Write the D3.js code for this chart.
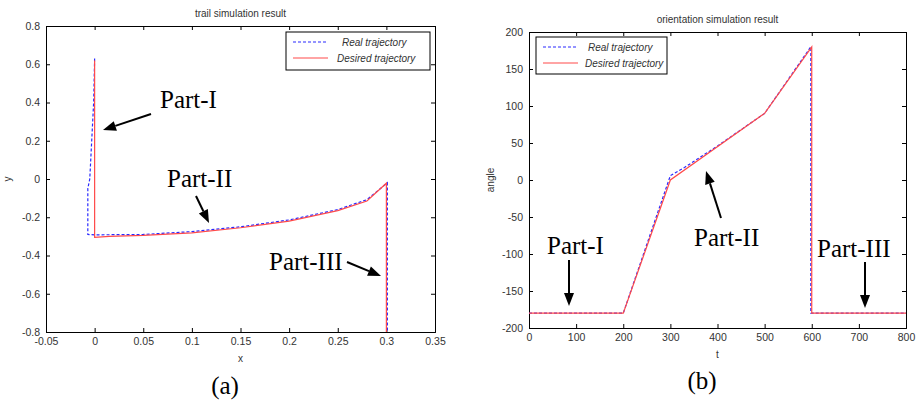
<!DOCTYPE html>
<html>
<head>
<meta charset="utf-8">
<script src="https://cdn.jsdelivr.net/npm/d3@7"></script>
<style>
  body { margin: 0; background: #fff; }
  svg { display: block; }
  .tick text { font-family: "Liberation Sans", Arial, sans-serif; font-size: 10.5px; fill: #333; }
  .small { font-family: "Liberation Sans", Arial, sans-serif; font-size: 10px; fill: #333; }
  .part { font-family: "Liberation Serif", "Times New Roman", serif; font-size: 25px; fill: #000; }
</style>
</head>
<body>
<svg id="chart" width="918" height="400"></svg>
<script>
// ---- panel (a): trail simulation result (x, y) ----
var trailDesiredX = [0, 0, 0.015, 0.05, 0.1, 0.15, 0.2, 0.25, 0.28, 0.3, 0.3];
var trailDesiredY = [0.62, -0.305, -0.3, -0.295, -0.282, -0.255, -0.22, -0.165, -0.115, -0.022, -0.8];
var trailRealX = [0, -0.001, -0.003, -0.005, -0.007, -0.007, 0, 0.05, 0.1, 0.15, 0.2, 0.25, 0.28, 0.301, 0.301];
var trailRealY = [0.63, 0.4, 0.2, 0.0, -0.05, -0.29, -0.292, -0.29, -0.275, -0.25, -0.214, -0.16, -0.108, -0.02, -0.8];
var trailXTicks = [-0.05, 0, 0.05, 0.1, 0.15, 0.2, 0.25, 0.3, 0.35];
var trailYTicks = [-0.8, -0.6, -0.4, -0.2, 0, 0.2, 0.4, 0.6, 0.8];

// ---- panel (b): orientation simulation result (t, angle) ----
var orientDesiredT = [0, 200, 300, 500, 600, 600, 800];
var orientDesiredA = [-180, -180, 0, 90, 180, -180, -180];
var orientRealT = [0, 200, 300, 330, 400, 450, 500, 598, 598, 800];
var orientRealA = [-180, -180, 6, 17, 46, 68, 90, 180, -180, -180];
var orientXTicks = [0, 100, 200, 300, 400, 500, 600, 700, 800];
var orientYTicks = [-200, -150, -100, -50, 0, 50, 100, 150, 200];

var legendLabels = ["Real trajectory", "Desired trajectory"];
var realColor = "#2a2aff";
var desiredColor = "#ff4a4a";

var svg = d3.select("#chart");

// matlab style labels use a plain hyphen for negatives
var tickFmt = function(d) { return String(d); };

function zip(xs, ys) {
  return xs.map(function(x, i) { return [x, ys[i]]; });
}

function drawPanel(cfg) {
  var g = svg.append("g");
  var x = d3.scaleLinear().domain(cfg.xDomain).range([cfg.left, cfg.right]);
  var y = d3.scaleLinear().domain(cfg.yDomain).range([cfg.bottom, cfg.top]);

  // axes with inward ticks on all four sides
  g.append("g").attr("transform", "translate(0," + cfg.bottom + ")")
    .call(d3.axisBottom(x).tickValues(cfg.xTicks).tickSize(-4).tickPadding(6).tickFormat(tickFmt));
  g.append("g").attr("transform", "translate(" + cfg.left + ",0)")
    .call(d3.axisLeft(y).tickValues(cfg.yTicks).tickSize(-4).tickPadding(6).tickFormat(tickFmt));
  g.append("g").attr("transform", "translate(0," + cfg.top + ")")
    .call(d3.axisTop(x).tickValues(cfg.xTicks).tickSize(-4).tickFormat(""));
  g.append("g").attr("transform", "translate(" + cfg.right + ",0)")
    .call(d3.axisRight(y).tickValues(cfg.yTicks).tickSize(-4).tickFormat(""));
  g.selectAll(".domain").attr("stroke", "#000");
  g.selectAll(".tick line").attr("stroke", "#000");

  var line = d3.line().x(function(d) { return x(d[0]); }).y(function(d) { return y(d[1]); });

  g.append("path").datum(zip(cfg.realX, cfg.realY))
    .attr("d", line).attr("fill", "none").attr("stroke", realColor)
    .attr("stroke-width", 1.2).attr("stroke-dasharray", "3,2");
  g.append("path").datum(zip(cfg.desX, cfg.desY))
    .attr("d", line).attr("fill", "none").attr("stroke", desiredColor)
    .attr("stroke-width", 1.2);

  // title and axis labels
  var cx = (cfg.left + cfg.right) / 2;
  g.append("text").attr("class", "small").attr("x", cx).attr("y", cfg.top - 9)
    .attr("text-anchor", "middle").text(cfg.title);
  g.append("text").attr("class", "small").attr("x", cx).attr("y", cfg.bottom + 30)
    .attr("text-anchor", "middle").text(cfg.xLabel);
  g.append("text").attr("class", "small")
    .attr("transform", "translate(" + cfg.yLabelX + "," + ((cfg.top + cfg.bottom) / 2) + ") rotate(-90)")
    .attr("text-anchor", "middle").text(cfg.yLabel);
  g.append("text").attr("class", "part").attr("x", cfg.capX).attr("y", cfg.capY)
    .attr("text-anchor", "middle").text(cfg.caption);

  // legend
  var lg = cfg.legend;
  g.append("rect").attr("x", lg.x).attr("y", lg.y).attr("width", lg.w).attr("height", lg.h)
    .attr("fill", "#fff").attr("stroke", "#000").attr("stroke-width", 1);
  [realColor, desiredColor].forEach(function(c, i) {
    var ly = lg.y + 10 + i * 16;
    g.append("line").attr("x1", lg.x + 7).attr("x2", lg.x + 42).attr("y1", ly).attr("y2", ly)
      .attr("stroke", c).attr("stroke-width", 1.2)
      .attr("stroke-dasharray", i === 0 ? "3,2" : null);
    g.append("text").attr("class", "small").attr("x", lg.x + lg.textX[i]).attr("y", ly + 3.5)
      .attr("font-style", "italic").attr("font-size", "9.5px").text(legendLabels[i]);
  });

  // Part labels with arrows
  cfg.parts.forEach(function(p) {
    g.append("text").attr("class", "part").attr("x", p.tx).attr("y", p.ty).text(p.label);
    arrow(g, p.ax1, p.ay1, p.ax2, p.ay2);
  });
}

function arrow(g, x1, y1, x2, y2) {
  var ang = Math.atan2(y2 - y1, x2 - x1);
  var len = 13, half = 5;
  var bx = x2 - len * Math.cos(ang), by = y2 - len * Math.sin(ang);
  g.append("line").attr("x1", x1).attr("y1", y1).attr("x2", bx).attr("y2", by)
    .attr("stroke", "#000").attr("stroke-width", 2);
  var px = -Math.sin(ang) * half, py = Math.cos(ang) * half;
  g.append("path")
    .attr("d", "M" + x2 + "," + y2 + "L" + (bx + px) + "," + (by + py) + "L" + (bx - px) + "," + (by - py) + "Z")
    .attr("fill", "#000");
}

drawPanel({
  left: 46, right: 435, top: 26, bottom: 332,
  xDomain: [-0.05, 0.35], yDomain: [-0.8, 0.8],
  xTicks: trailXTicks, yTicks: trailYTicks,
  realX: trailRealX, realY: trailRealY, desX: trailDesiredX, desY: trailDesiredY,
  title: "trail simulation result", xLabel: "x", yLabel: "y", yLabelX: 11,
  caption: "(a)", capX: 225, capY: 394,
  legend: { x: 286, y: 32, w: 144, h: 38, textX: [56, 51] },
  parts: [
    { label: "Part-I", tx: 160, ty: 108, ax1: 151, ay1: 114, ax2: 103, ay2: 130 },
    { label: "Part-II", tx: 167, ty: 187, ax1: 196, ay1: 196, ax2: 209, ay2: 223 },
    { label: "Part-III", tx: 269, ty: 270, ax1: 347, ay1: 262, ax2: 381, ay2: 276 }
  ]
});

drawPanel({
  left: 529, right: 906, top: 32, bottom: 328,
  xDomain: [0, 800], yDomain: [-200, 200],
  xTicks: orientXTicks, yTicks: orientYTicks,
  realX: orientRealT, realY: orientRealA, desX: orientDesiredT, desY: orientDesiredA,
  title: "orientation simulation result", xLabel: "t", yLabel: "angle", yLabelX: 494,
  caption: "(b)", capX: 702, capY: 389,
  legend: { x: 536, y: 37, w: 131, h: 37, textX: [52, 49] },
  parts: [
    { label: "Part-I", tx: 547, ty: 254, ax1: 569, ay1: 260, ax2: 569, ay2: 306 },
    { label: "Part-II", tx: 694, ty: 246, ax1: 721, ay1: 218, ax2: 706, ay2: 171 },
    { label: "Part-III", tx: 817, ty: 257, ax1: 865, ay1: 262, ax2: 865, ay2: 308 }
  ]
});
</script>
</body>
</html>
